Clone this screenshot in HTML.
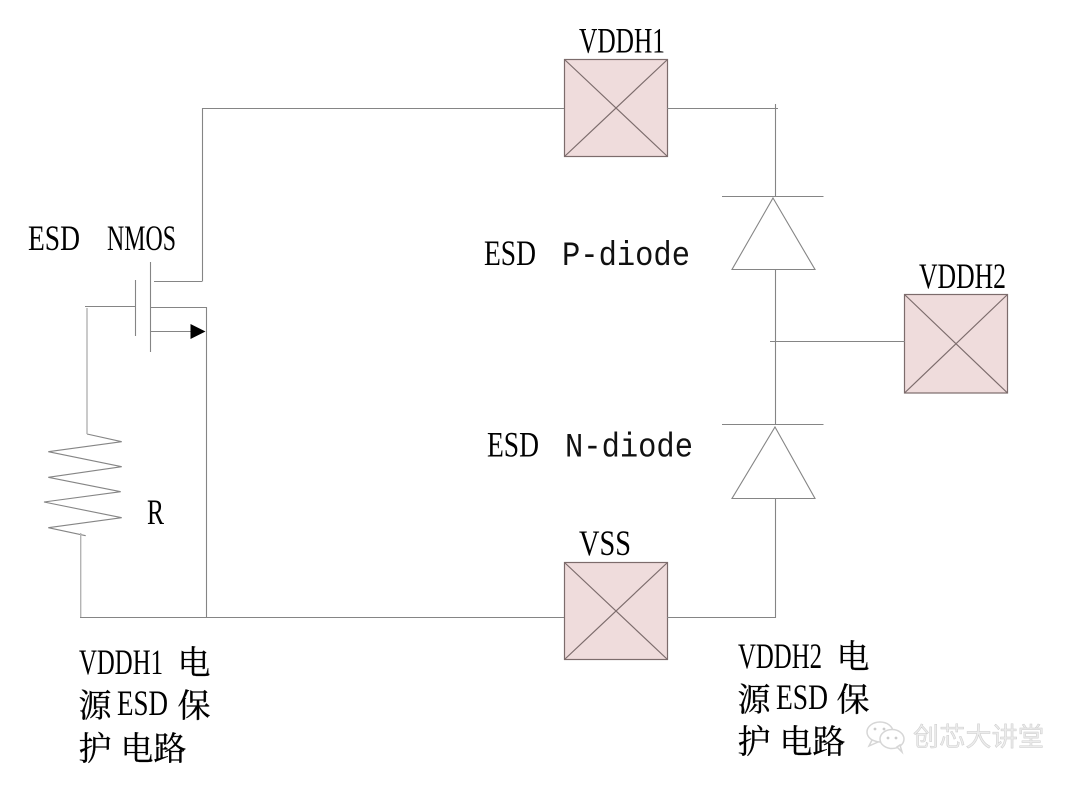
<!DOCTYPE html>
<html><head><meta charset="utf-8"><style>
html,body{margin:0;padding:0;background:#fff;width:1080px;height:785px;overflow:hidden}
svg{display:block}
.s{font-family:"Liberation Serif","Noto Serif CJK SC",serif;font-size:36px;fill:#000}
.m{font-family:"Liberation Mono",monospace;font-size:34px;fill:#111}
.c{font-family:"Noto Serif CJK SC",serif;font-size:33px;fill:#000;stroke:#000;stroke-width:.3}
.w{font-family:"Noto Sans CJK SC",sans-serif;font-size:26px;fill:#ececec;stroke:#cccccc;stroke-width:.5}
</style></head><body>
<svg width="1080" height="785" viewBox="0 0 1080 785" xmlns="http://www.w3.org/2000/svg">
<g fill="#efdcdc" stroke="#7c6c6c" stroke-width="1.2">
<rect x="564.5" y="59.5" width="103" height="97"/><path d="M564.5 59.5L667.5 156.5M667.5 59.5L564.5 156.5" fill="none"/>
<rect x="904.5" y="294.5" width="103" height="98.5"/><path d="M904.5 294.5L1007.5 393M1007.5 294.5L904.5 393" fill="none"/>
<rect x="564.5" y="562.5" width="103" height="97"/><path d="M564.5 562.5L667.5 659.5M667.5 562.5L564.5 659.5" fill="none"/>
</g>
<g fill="none" stroke="#858585" stroke-width="1.1">
<path d="M202.5 281.5V108.5H564M667 108.5H778M775.5 104V197"/>
<path d="M722 196.5H823.5M773 198L815 269.5H732Z"/>
<path d="M775.5 269.5V425M770 341.5H905"/>
<path d="M722 424.5H823.5M775 427L815 498.5H732Z"/>
<path d="M775.5 498V617.5H667M564 617.5H80"/>
<path d="M206.5 307V617M150.5 307.5H207M150.5 262V352M135.5 280V336M85 306.5H135M154 281.5H202M150 331.5H192"/>
<path d="M87 434L121.7 441.7L48.3 451.7L121.7 466.7L48.3 477.3L120.7 491.7L44 502L121.7 517.7L48.3 527.7L85.7 535.7"/>
</g>
<g fill="none" stroke="#b4b4b4" stroke-width="1.4">
<path d="M87 308V434M80.7 533V617"/>
</g>
<path d="M190.5 324L205.5 331.5L190.5 339Z" fill="#000"/>
<text class="s" x="579" y="52.5" textLength="86" lengthAdjust="spacingAndGlyphs">VDDH1</text>
<text class="s" x="919" y="288" textLength="87" lengthAdjust="spacingAndGlyphs">VDDH2</text>
<text class="s" x="579" y="555" textLength="52" lengthAdjust="spacingAndGlyphs">VSS</text>
<text class="s" x="28" y="250" textLength="52" lengthAdjust="spacingAndGlyphs">ESD</text>
<text class="s" x="107" y="250" textLength="69" lengthAdjust="spacingAndGlyphs">NMOS</text>
<text class="s" x="147" y="524" textLength="17" lengthAdjust="spacingAndGlyphs">R</text>
<text class="s" x="484" y="265" textLength="52" lengthAdjust="spacingAndGlyphs">ESD</text>
<text class="m" x="562" y="265" textLength="128" lengthAdjust="spacingAndGlyphs">P-diode</text>
<text class="s" x="487" y="456.5" textLength="52" lengthAdjust="spacingAndGlyphs">ESD</text>
<text class="m" x="565" y="456.5" textLength="128" lengthAdjust="spacingAndGlyphs">N-diode</text>

<text class="s" x="79" y="674" textLength="84" lengthAdjust="spacingAndGlyphs">VDDH1</text>
<text class="c" x="177.5" y="674">电</text>
<text class="c" x="78.5" y="717">源</text>
<text class="s" x="117" y="715" textLength="51" lengthAdjust="spacingAndGlyphs">ESD</text>
<text class="c" x="177.5" y="717">保</text>
<text class="c" x="78.5" y="760">护</text>
<text class="c" x="120.5" y="760">电</text>
<text class="c" x="153.5" y="760">路</text>

<text class="s" x="738" y="668" textLength="84" lengthAdjust="spacingAndGlyphs">VDDH2</text>
<text class="c" x="836.5" y="668">电</text>
<text class="c" x="737.5" y="711">源</text>
<text class="s" x="776" y="709" textLength="52" lengthAdjust="spacingAndGlyphs">ESD</text>
<text class="c" x="836.5" y="711">保</text>
<text class="c" x="737.5" y="753">护</text>
<text class="c" x="779.5" y="753">电</text>
<text class="c" x="812.5" y="753">路</text>

<g fill="#fff" stroke="#d6d6d6" stroke-width="1.5">
<ellipse cx="880" cy="732" rx="13" ry="10"/>
<path d="M872 740L869 746L878 742Z"/>
<ellipse cx="892" cy="739" rx="12" ry="9.5"/>
<path d="M897 747L902 752L900 745Z"/>
</g>
<g fill="#cccccc"><circle cx="888" cy="738" r="1.4"/><circle cx="896" cy="738" r="1.4"/><circle cx="875" cy="729" r="1.4"/><circle cx="884" cy="729" r="1.4"/></g>
<text class="w" x="913" y="746" textLength="131" lengthAdjust="spacing">创芯大讲堂</text>
</svg>
</body></html>
